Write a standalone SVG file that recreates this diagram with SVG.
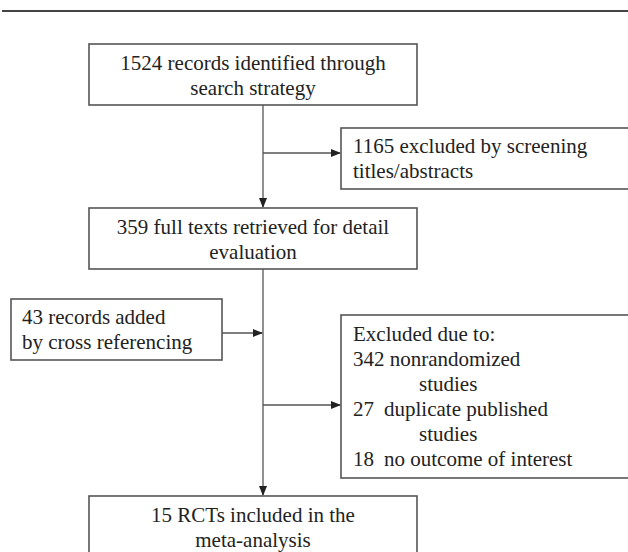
<svg xmlns="http://www.w3.org/2000/svg" width="628" height="552" viewBox="0 0 628 552">
<style>
.box{fill:#fff;stroke:#555;stroke-width:1.6}
.t{font-family:"Liberation Serif","Times New Roman","DejaVu Serif",serif;font-size:21px;fill:#222}
.c{text-anchor:middle}
.ln{stroke:#555;stroke-width:1.3;fill:none}
</style>
<defs>
<marker id="ah" markerWidth="10" markerHeight="8" refX="9" refY="4" orient="auto" markerUnits="userSpaceOnUse">
<path d="M0,0 L10,4 L0,8 Z" fill="#222"/>
</marker>
</defs>
<rect width="628" height="552" fill="#fff"/>
<line x1="2" y1="11" x2="628" y2="11" stroke="#444" stroke-width="1.8"/>
<g id="connectors">
<line class="ln" x1="263" y1="105" x2="263" y2="207" marker-end="url(#ah)"/>
<line class="ln" x1="263" y1="153" x2="340" y2="153" marker-end="url(#ah)"/>
<line class="ln" x1="263" y1="269" x2="263" y2="495" marker-end="url(#ah)"/>
<line class="ln" x1="222" y1="333" x2="262" y2="333" marker-end="url(#ah)"/>
<line class="ln" x1="263" y1="405" x2="340" y2="405" marker-end="url(#ah)"/>
</g>
<g id="n1">
<rect class="box" x="89" y="44" width="328" height="61"/>
<text class="t c" x="253" y="70">1524 records identified through</text>
<text class="t c" x="253" y="95">search strategy</text>
</g>
<g id="n2">
<rect class="box" x="341" y="128" width="300" height="61"/>
<text class="t" x="353" y="153">1165 excluded by screening</text>
<text class="t" x="353" y="178">titles/abstracts</text>
</g>
<g id="n3">
<rect class="box" x="89" y="208" width="328" height="61"/>
<text class="t c" x="253" y="234">359 full texts retrieved for detail</text>
<text class="t c" x="253" y="259">evaluation</text>
</g>
<g id="n4">
<rect class="box" x="11" y="299" width="211" height="61"/>
<text class="t" x="22" y="324">43 records added</text>
<text class="t" x="22" y="349">by cross referencing</text>
</g>
<g id="n5">
<rect class="box" x="341" y="315" width="300" height="163"/>
<text class="t" x="353" y="341">Excluded due to:</text>
<text class="t" x="353" y="366">342 nonrandomized</text>
<text class="t" x="419" y="391">studies</text>
<text class="t" x="353" y="416">27</text>
<text class="t" x="384" y="416">duplicate published</text>
<text class="t" x="419" y="441">studies</text>
<text class="t" x="353" y="466">18</text>
<text class="t" x="384" y="466">no outcome of interest</text>
</g>
<g id="n6">
<rect class="box" x="89" y="496" width="328" height="64"/>
<text class="t c" x="253" y="522">15 RCTs included in the</text>
<text class="t c" x="253" y="547">meta-analysis</text>
</g>
</svg>
